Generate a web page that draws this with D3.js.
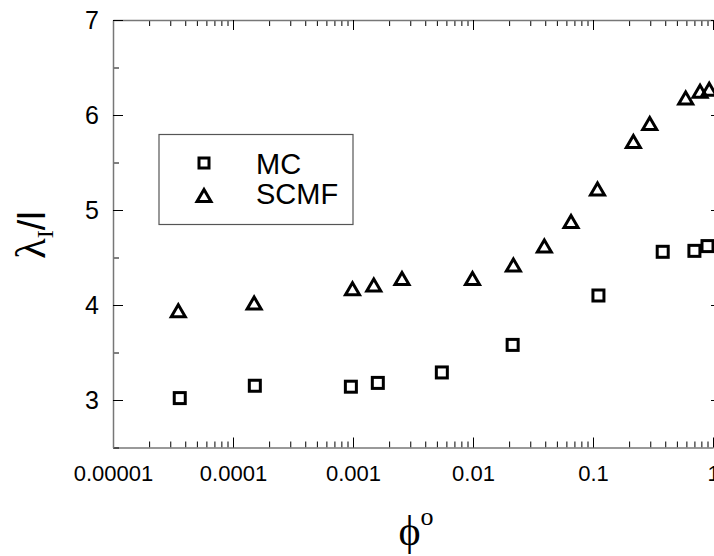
<!DOCTYPE html>
<html lang="en">
<head>
<meta charset="UTF-8">
<title>lambda vs phi</title>
<script src="https://d3js.org/d3.v7.min.js"></script>
<style>
  body { margin: 0; background: #fff; }
  svg { display: block; }
  .tick text { font-family: "Liberation Sans", Arial, sans-serif; fill: #000; }
  .marker { fill: none; stroke: #000; stroke-width: 3; }
</style>
</head>
<body>
<svg width="714" height="556"></svg>
<script>
// data
const mcPhi = [3.6e-5, 1.52e-4, 9.6e-4, 1.61e-3, 5.5e-3, 0.0214, 0.111, 0.381, 0.70, 0.90];
const mcLambda = [3.02, 3.15, 3.14, 3.18, 3.29, 3.58, 4.10, 4.56, 4.57, 4.62];
const scmfPhi = [3.5e-5, 1.5e-4, 9.9e-4, 1.49e-3, 2.56e-3, 9.9e-3, 0.0217, 0.0393, 0.0656,
                 0.109, 0.217, 0.297, 0.592, 0.78, 0.93];
const scmfLambda = [3.94, 4.02, 4.17, 4.21, 4.28, 4.28, 4.42, 4.62, 4.88,
                    5.22, 5.72, 5.91, 6.18, 6.25, 6.27];
const xTicks = [1e-5, 1e-4, 1e-3, 1e-2, 1e-1, 1];
const xTickLabels = ["0.00001", "0.0001", "0.001", "0.01", "0.1", "1"];
const yTicks = [3, 4, 5, 6, 7];
const seriesNames = ["MC", "SCMF"];

const svg = d3.select("svg"),
      pLeft = 113, pRight = 713, pTop = 20, pBottom = 447.5;

const x = d3.scaleLog().domain([1e-5, 1]).range([pLeft, pRight]);
const y = d3.scaleLinear().domain([2.5, 7]).range([pBottom, pTop]);

// minor ticks
const xMinor = [];
for (let e = -5; e < 0; e++) for (let m = 2; m <= 9; m++) xMinor.push(m * Math.pow(10, e));
const yMinor = d3.range(2.5, 7, 0.5).filter(v => v % 1 !== 0);

function styleAxis(g) {
  g.select(".domain").attr("stroke", "#777").attr("stroke-width", 1.5);
  g.selectAll(".tick line").attr("stroke", "#000");
}

// bottom
svg.append("g").attr("transform", `translate(0,${pBottom})`)
  .call(d3.axisBottom(x).tickValues(xMinor).tickSize(-6).tickFormat("").tickSizeOuter(0))
  .call(g => g.select(".domain").remove())
  .call(styleAxis);
svg.append("g").attr("transform", `translate(0,${pBottom})`)
  .call(d3.axisBottom(x).tickValues(xTicks).tickSize(-10).tickSizeOuter(0).tickPadding(18)
    .tickFormat((d, i) => xTickLabels[i]))
  .call(styleAxis)
  .call(g => g.selectAll("text").attr("font-size", 22));

// top
svg.append("g").attr("transform", `translate(0,${pTop})`)
  .call(d3.axisTop(x).tickValues(xMinor).tickSize(-6).tickFormat("").tickSizeOuter(0))
  .call(g => g.select(".domain").remove())
  .call(styleAxis);
svg.append("g").attr("transform", `translate(0,${pTop})`)
  .call(d3.axisTop(x).tickValues(xTicks).tickSize(-10).tickFormat("").tickSizeOuter(0))
  .call(styleAxis);

// left
svg.append("g").attr("transform", `translate(${pLeft},0)`)
  .call(d3.axisLeft(y).tickValues(yMinor).tickSize(-6).tickFormat("").tickSizeOuter(0))
  .call(g => g.select(".domain").remove())
  .call(styleAxis);
svg.append("g").attr("transform", `translate(${pLeft},0)`)
  .call(d3.axisLeft(y).tickValues(yTicks).tickSize(-10).tickSizeOuter(0).tickPadding(14)
    .tickFormat(d3.format("d")))
  .call(styleAxis)
  .call(g => g.selectAll("text").attr("font-size", 25));

// right (line sits off the picture, only tick ends show)
svg.append("g").attr("transform", `translate(${pRight + 8},0)`)
  .call(d3.axisRight(y).tickValues(yTicks).tickSize(-10).tickFormat("").tickSizeOuter(0))
  .call(g => g.select(".domain").remove())
  .call(styleAxis);

// markers
const sq = 11;
const triPath = "M0,-6L7,6L-7,6Z";

svg.append("g").selectAll("rect")
  .data(mcPhi.map((p, i) => [p, mcLambda[i]]))
  .join("rect")
  .attr("class", "marker")
  .attr("x", d => x(d[0]) - sq / 2)
  .attr("y", d => y(d[1]) - sq / 2)
  .attr("width", sq).attr("height", sq);

svg.append("g").selectAll("path")
  .data(scmfPhi.map((p, i) => [p, scmfLambda[i]]))
  .join("path")
  .attr("class", "marker")
  .attr("stroke-linejoin", "miter")
  .attr("transform", d => `translate(${x(d[0])},${y(d[1])})`)
  .attr("d", triPath);

// legend
const lg = svg.append("g");
lg.append("rect").attr("x", 159).attr("y", 134.5).attr("width", 194).attr("height", 90)
  .attr("fill", "none").attr("stroke", "#555").attr("stroke-width", 1.2);
lg.append("rect").attr("class", "marker").attr("stroke-width", 2.5)
  .attr("x", 204 - 5).attr("y", 163 - 5).attr("width", 10).attr("height", 10);
lg.append("path").attr("class", "marker")
  .attr("transform", "translate(204,195.5)").attr("d", triPath);
lg.selectAll("text").data(seriesNames).join("text")
  .attr("x", 256)
  .attr("y", (d, i) => 173.5 + i * 30)
  .attr("font-family", "'Liberation Sans', Arial, sans-serif")
  .attr("font-size", 29)
  .text(d => d);

// axis titles
const yt = svg.append("text")
  .attr("transform", "translate(45,235) rotate(-90)")
  .attr("text-anchor", "middle")
  .attr("font-family", "'Liberation Serif', 'Times New Roman', serif")
  .attr("font-size", 42);
yt.append("tspan").text("λ");
yt.append("tspan").attr("font-size", 24).attr("dy", 8).text("I");
yt.append("tspan").attr("dy", -8)
  .attr("font-family", "'Liberation Sans', Arial, sans-serif").attr("font-size", 38).text("/l");

const xt = svg.append("text")
  .attr("x", 416).attr("y", 545)
  .attr("text-anchor", "middle")
  .attr("font-family", "'Liberation Serif', 'Times New Roman', serif")
  .attr("font-size", 42);
xt.append("tspan").text("\u03D5");
xt.append("tspan").attr("font-size", 26).attr("dy", -20).text("o");
</script>
</body>
</html>
